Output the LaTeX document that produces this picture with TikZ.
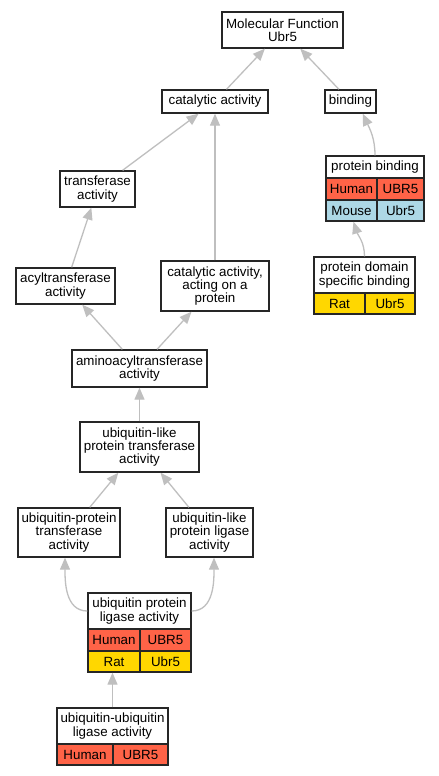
\documentclass[tikz,border=0pt]{standalone}
\usepackage{fontspec}
\setmainfont{Liberation Sans}
\usetikzlibrary{arrows.meta,calc}
\definecolor{human}{HTML}{FF6347}
\definecolor{mouse}{HTML}{ADD8E6}
\definecolor{rat}{HTML}{FFD700}
\begin{document}
\begin{tikzpicture}[x=1bp,y=-1bp,
  box/.style={draw=black!85, line width=1.4bp, fill=white, inner sep=0pt, align=center, font=\fontsize{13.4}{13.2}\selectfont},
  edge/.style={draw=black!25, line width=1.3bp, -{Triangle[length=12bp,width=10bp]}},
]
\useasboundingbox[fill=white] (0,0) rectangle (439,776);

% plain boxes
\node[box, minimum width=121bp, minimum height=36bp] (mf) at (282.5,30) {Molecular Function\\Ubr5};
\node[box, minimum width=106bp, minimum height=23bp] (cat) at (215,101.5) {catalytic activity};
\node[box, minimum width=51bp, minimum height=23bp] (bind) at (350.5,101.5) {binding};
\node[box, minimum width=75bp, minimum height=36bp] (transf) at (97.5,189) {transferase\\activity};
\node[box, minimum width=99bp, minimum height=36bp] (acyl) at (65.5,286) {acyltransferase\\activity};
\node[box, minimum width=108bp, minimum height=50bp] (catp) at (215,286) {catalytic activity,\\acting on a\\protein};
\node[box, minimum width=135bp, minimum height=37bp] (amino) at (139.5,368.5) {aminoacyltransferase\\activity};
\node[box, minimum width=119bp, minimum height=50bp] (ublt) at (139.5,447) {ubiquitin-like\\protein transferase\\activity};
\node[box, minimum width=102bp, minimum height=49bp] (upt) at (69,532.5) {ubiquitin-protein\\transferase\\activity};
\node[box, minimum width=87bp, minimum height=49bp] (ubll) at (209.5,532.5) {ubiquitin-like\\protein ligase\\activity};

% protein binding table
\node[box, minimum width=98bp, minimum height=22bp] (pbT) at (375,167) {protein binding};
\node[box, fill=human, minimum width=51bp, minimum height=22bp] (pbH1) at (351.5,189) {Human};
\node[box, fill=human, minimum width=47bp, minimum height=22bp] (pbH2) at (400.5,189) {UBR5};
\node[box, fill=mouse, minimum width=51bp, minimum height=21bp] (pbM1) at (351.5,210.5) {Mouse};
\node[box, fill=mouse, minimum width=47bp, minimum height=21bp] (pbM2) at (400.5,210.5) {Ubr5};

% protein domain specific binding table
\node[box, minimum width=101bp, minimum height=36bp] (pdT) at (364.5,275) {protein domain\\specific binding};
\node[box, fill=rat, minimum width=51bp, minimum height=21bp] (pdR1) at (339.5,303.5) {Rat};
\node[box, fill=rat, minimum width=50bp, minimum height=21bp] (pdR2) at (390,303.5) {Ubr5};

% ubiquitin protein ligase activity table
\node[box, minimum width=103bp, minimum height=36bp] (uplT) at (139.5,611) {ubiquitin protein\\ligase activity};
\node[box, fill=human, minimum width=52bp, minimum height=22bp] (uplH1) at (114,640) {Human};
\node[box, fill=human, minimum width=51bp, minimum height=22bp] (uplH2) at (165.5,640) {UBR5};
\node[box, fill=rat, minimum width=52bp, minimum height=21bp] (uplR1) at (114,661.5) {Rat};
\node[box, fill=rat, minimum width=51bp, minimum height=21bp] (uplR2) at (165.5,661.5) {Ubr5};

% ubiquitin-ubiquitin ligase activity table
\node[box, minimum width=111bp, minimum height=36bp] (uuT) at (112.5,726) {ubiquitin-ubiquitin\\ligase activity};
\node[box, fill=human, minimum width=56bp, minimum height=21bp] (uuH1) at (85,754.5) {Human};
\node[box, fill=human, minimum width=55bp, minimum height=21bp] (uuH2) at (140.5,754.5) {UBR5};

% edges
\draw[edge] (cat) -- (mf);
\draw[edge] (bind) -- (mf);
\draw[edge] (transf) -- (cat);
\draw[edge] (catp) -- (cat);
\draw[edge] (acyl) -- (transf);
\draw[edge] (amino) -- (acyl);
\draw[edge] (amino) -- (catp);
\draw[edge] (ublt) -- (amino);
\draw[edge] (upt) -- (ublt);
\draw[edge] (ubll) -- (ublt);
\draw[edge] (pbT.north) to[out=90,in=-65] (bind.-45);
\draw[edge] (pdT.north) to[out=90,in=-72] (pbM1.-80);
\draw[edge] (uplT.west) to[out=180,in=-90] ($(upt.south)+(-4,0)$);
\draw[edge] (uplT.east) to[out=0,in=-90] ($(ubll.south)+(4.5,0)$);
\draw[edge] (uuT.north) -- (uuT.north |- uplR1.south);
\end{tikzpicture}
\end{document}
